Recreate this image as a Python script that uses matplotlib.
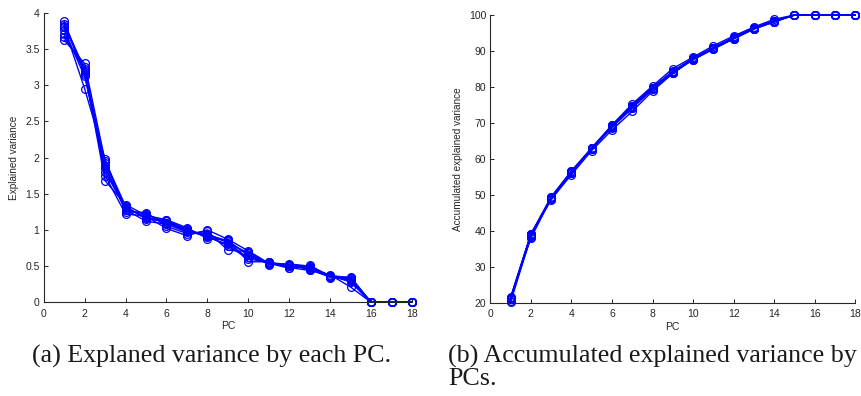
import numpy as np
import matplotlib
matplotlib.use("Agg")
import matplotlib.pyplot as plt

# Explained variance per principal component, one list per run
pcs = np.arange(1, 19)
run1 = [3.88, 3.15, 1.80, 1.30, 1.18, 1.10, 0.98, 0.92, 0.84, 0.66, 0.54, 0.50, 0.47, 0.36, 0.32, 0, 0, 0]
run2 = [3.62, 3.30, 1.95, 1.33, 1.15, 1.12, 1.00, 0.90, 0.80, 0.62, 0.55, 0.52, 0.49, 0.37, 0.28, 0, 0, 0]
run3 = [3.80, 2.95, 1.98, 1.25, 1.24, 1.05, 0.95, 0.98, 0.72, 0.70, 0.53, 0.51, 0.46, 0.35, 0.33, 0, 0, 0]
run4 = [3.70, 3.20, 1.68, 1.35, 1.20, 1.14, 1.03, 0.88, 0.86, 0.56, 0.56, 0.48, 0.44, 0.38, 0.21, 0, 0, 0]
run5 = [3.85, 3.22, 1.88, 1.28, 1.12, 1.08, 0.97, 0.95, 0.82, 0.68, 0.52, 0.53, 0.50, 0.34, 0.35, 0, 0, 0]
run6 = [3.66, 3.25, 1.75, 1.22, 1.19, 1.02, 0.92, 1.00, 0.87, 0.71, 0.54, 0.47, 0.51, 0.36, 0.30, 0, 0, 0]
run7 = [3.76, 3.12, 1.92, 1.31, 1.16, 1.13, 1.01, 0.91, 0.78, 0.60, 0.55, 0.50, 0.48, 0.37, 0.34, 0, 0, 0]
run8 = [3.82, 3.18, 1.85, 1.27, 1.22, 1.10, 0.99, 0.93, 0.85, 0.65, 0.53, 0.52, 0.45, 0.35, 0.31, 0, 0, 0]
runs = [run1, run2, run3, run4, run5, run6, run7, run8]

xticks = [0, 2, 4, 6, 8, 10, 12, 14, 16, 18]
yticks_a = [0, 0.5, 1, 1.5, 2, 2.5, 3, 3.5, 4]
yticks_b = [20, 30, 40, 50, 60, 70, 80, 90, 100]

plt.rcParams['font.family'] = ['Liberation Sans', 'DejaVu Sans']

fig = plt.figure(figsize=(8.62, 3.96), dpi=100)
ax1 = fig.add_axes([0.0507, 0.2366, 0.4273, 0.7313])
ax2 = fig.add_axes([0.5688, 0.2356, 0.4234, 0.7265])

style = dict(color=(0, 0, 1), lw=1.0, marker='o', mfc='none', mec=(0, 0, 1),
             ms=5.6, mew=0.9, clip_on=False)

for r in runs:
    v = np.array(r, dtype=float)
    ax1.plot(pcs, v, **style)
    ax2.plot(pcs, np.cumsum(v) / v.sum() * 100, **style)

for ax, yt, ylab in [(ax1, yticks_a, 'Explained variance'),
                     (ax2, yticks_b, 'Accumulated explained variance')]:
    ax.set_xlim(0, 18)
    ax.set_ylim(yt[0], yt[-1])
    ax.set_xticks(xticks)
    ax.set_yticks(yt)
    ax.set_yticklabels([f'{t:g}' for t in yt])
    ax.spines['top'].set_visible(False)
    ax.spines['right'].set_visible(False)
    for s in ('left', 'bottom'):
        ax.spines[s].set_color('#262626')
        ax.spines[s].set_linewidth(0.8)
    ax.tick_params(direction='in', length=3, width=0.7, labelsize=7.5,
                   colors='#262626', labelcolor='#262626')
    ax.tick_params(axis='x', pad=4.5)
    ax.tick_params(axis='y', pad=3)
    ax.set_xlabel('PC', fontsize=7.5, labelpad=2, color='#262626')
    ax.set_ylabel(ylab, fontsize=7.2, labelpad=4, color='#262626')

cap = dict(family=['Liberation Serif', 'DejaVu Serif'], fontsize=18.7, color='#1a1a1a',
           va='baseline', ha='left')
fig.text(32 / 862, 1 - 363 / 396, '(a) Explaned variance by each PC.', **cap)
fig.text(448 / 862, 1 - 363 / 396, '(b) Accumulated explained variance by', **cap)
fig.text(448 / 862, 1 - 385 / 396, 'PCs.', **cap)

fig.savefig('out.png', dpi=100)
